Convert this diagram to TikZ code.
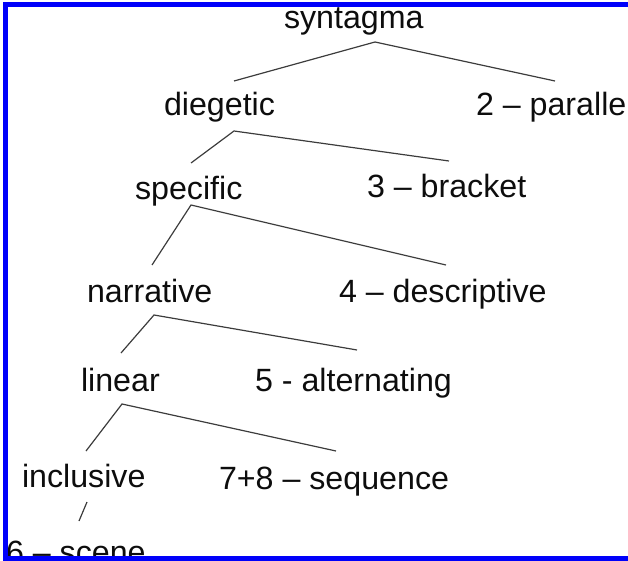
\documentclass[tikz,border=0pt]{standalone}
\usepackage{fontspec}
\setmainfont{Liberation Sans}
\definecolor{frameblue}{RGB}{0,0,250}
\definecolor{inkgray}{RGB}{60,60,60}
\begin{document}
\begin{tikzpicture}[x=1pt,y=-1pt,
  term/.style={inner sep=0pt, outer sep=0pt, anchor=base west,
    text=black!95, font=\fontsize{32.2}{38}\selectfont},
  branch/.style={draw=inkgray, line width=1.2pt},
  edge/.style={fill=frameblue, draw=none}]
\useasboundingbox (0,0) rectangle (628,561);
\clip (0,0) rectangle (628,561);

% terms of the syntagma tree
\node[term] (syn)   at (284,28.5) {syntagma};
\node[term] (dieg)  at (164,116)  {diegetic};
\node[term] (par)   at (476,116)  {2 – paralle};
\node[term] (spec)  at (135,200)  {specific};
\node[term] (brack) at (367,198)  {3 – bracket};
\node[term] (narr)  at (87,302)   {narrative};
\node[term] (desc)  at (339,302)  {4 – descriptive};
\node[term] (lin)   at (81,391)   {linear};
\node[term] (alt)   at (255,391)  {5 - alternating};
\node[term] (incl)  at (22,487)   {inclusive};
\node[term] (seq)   at (219,489)  {7+8 – sequence};
\node[term] (scene) at (6,563)    {6 – scene};

% fork points and branch ends
\coordinate (synF)   at (375,42);
\coordinate (diegT)  at (234,81);
\coordinate (parT)   at (555,81);
\coordinate (diegF)  at (234,131);
\coordinate (specT)  at (191,163);
\coordinate (brackT) at (449,161);
\coordinate (specF)  at (191,205);
\coordinate (narrT)  at (152,265);
\coordinate (descT)  at (446,265);
\coordinate (narrF)  at (154,315);
\coordinate (linT)   at (121,353);
\coordinate (altT)   at (357,350);
\coordinate (linF)   at (122,404);
\coordinate (inclT)  at (86,451);
\coordinate (seqT)   at (336,451);
\coordinate (inclF)  at (87,502);
\coordinate (sceneT) at (79,521);

\draw[branch] (diegT) -- (synF) -- (parT);
\draw[branch] (specT) -- (diegF) -- (brackT);
\draw[branch] (narrT) -- (specF) -- (descT);
\draw[branch] (linT) -- (narrF) -- (altT);
\draw[branch] (inclT) -- (linF) -- (seqT);
\draw[branch] (inclF) -- (sceneT);

% blue frame, open on the right
\fill[edge] (3,2) rectangle (8,561);
\fill[edge] (3,2) rectangle (628,7);
\fill[edge] (3,556) rectangle (628,561);
\end{tikzpicture}
\end{document}
